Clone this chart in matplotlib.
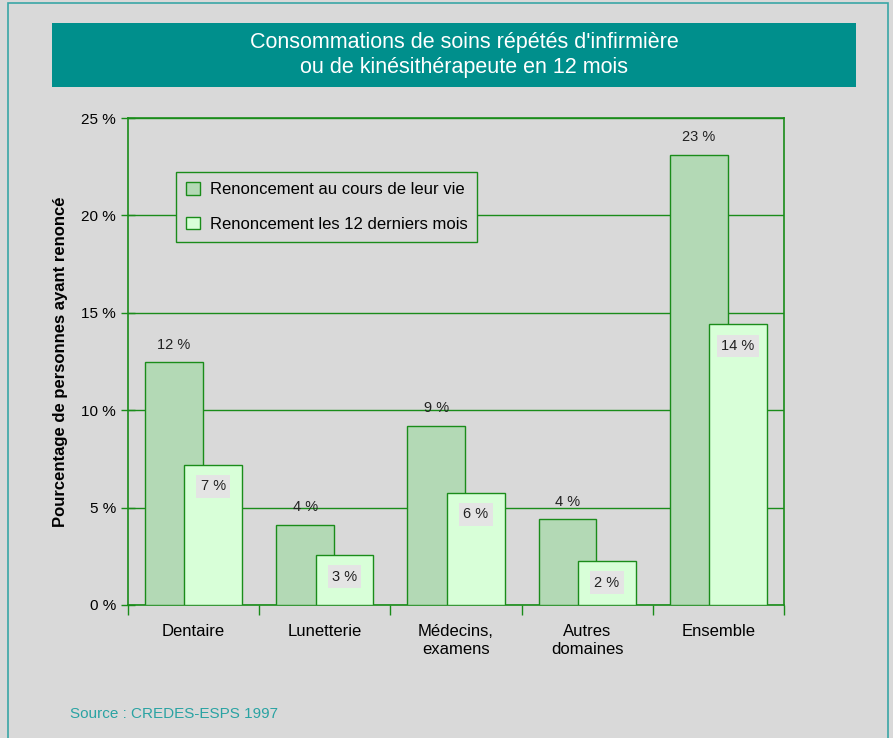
import matplotlib.pyplot as plt
import numpy as np
from matplotlib.patches import Rectangle

# data
categories = ['Dentaire', 'Lunetterie', 'Médecins,\nexamens', 'Autres\ndomaines', 'Ensemble']
vie = [12.45, 4.1, 9.2, 4.4, 23.1]
mois12 = [7.2, 2.55, 5.75, 2.25, 14.4]
vie_labels = ['12 %', '4 %', '9 %', '4 %', '23 %']
mois_labels = ['7 %', '3 %', '6 %', '2 %', '14 %']
yticks = [0, 5, 10, 15, 20, 25]

bg = '#d9d9d9'
green = '#1a8c1a'
teal = '#008f8c'
dark_fill = '#b3d9b5'
light_fill = '#d8ffd8'

plt.rcParams['font.family'] = ['Liberation Sans', 'DejaVu Sans']

fig = plt.figure(figsize=(8.93, 7.38), dpi=100, facecolor=bg)

# outer frame (runs off the bottom edge) and title box
fig.patches.append(Rectangle((8 / 893, -0.02), 880 / 893, 1 - 3 / 738 + 0.02, transform=fig.transFigure,
                             fill=False, edgecolor='#3aa6a6', linewidth=1.2))
fig.patches.append(Rectangle((52 / 893, 1 - 87 / 738), 804 / 893, 64 / 738, transform=fig.transFigure,
                             facecolor=teal, edgecolor='none'))
fig.text(464 / 893, 1 - 55 / 738, "Consommations de soins répétés d'infirmière\nou de kinésithérapeute en 12 mois",
         ha='center', va='center', color='white', fontsize=15.5, linespacing=1.2)

ax = fig.add_axes([128 / 893, 1 - 605 / 738, 656 / 893, 487 / 738])
ax.set_facecolor(bg)

x = np.arange(len(categories))
w = 0.44
off = 0.15
ax.bar(x - off, vie, w, color=dark_fill, edgecolor=green, linewidth=1, zorder=3,
       label='Renoncement au cours de leur vie')
ax.bar(x + off, mois12, w, color=light_fill, edgecolor=green, linewidth=1, zorder=4,
       label='Renoncement les 12 derniers mois')

for i in range(len(categories)):
    ax.text(x[i] - off, vie[i] + 0.55, vie_labels[i], ha='center', va='bottom', fontsize=10.5, color='#222222', zorder=5)
    ax.text(x[i] + off, mois12[i] - 1.1, mois_labels[i], ha='center', va='center', fontsize=10.5, color='#222222',
            zorder=5, bbox=dict(boxstyle='square,pad=0.3', facecolor='#e4e4e4', edgecolor='none'))

ax.set_xlim(-0.5, len(categories) - 0.5)
ax.set_ylim(0, 25)
ax.set_yticks(yticks)
ax.set_yticklabels([f'{t} %' for t in yticks], fontsize=11)
ax.yaxis.grid(True, color=green, linewidth=1, zorder=1)
ax.set_axisbelow(True)

# category ticks between groups, labels centred under groups
ax.set_xticks(np.arange(-0.5, len(categories), 1.0))
ax.set_xticklabels([])
ax.set_xticks(x, minor=True)
ax.set_xticklabels(categories, minor=True, fontsize=12)
ax.tick_params(axis='x', which='minor', length=0, pad=14)
ax.tick_params(axis='x', which='major', direction='out', length=7, color=green, width=1)
ax.tick_params(axis='y', direction='inout', length=10, color=green, width=1)

for s in ax.spines.values():
    s.set_color(green)
    s.set_linewidth(1.2)

ax.set_ylabel('Pourcentage de personnes ayant renoncé', fontsize=12, fontweight='bold', labelpad=10)

leg = ax.legend(loc='upper left', bbox_to_anchor=(40 / 656, 1 - 46 / 487), fontsize=12,
                frameon=True, fancybox=False, handlelength=0.8, handleheight=0.8,
                borderpad=0.6, labelspacing=1.15, handletextpad=0.6)
leg.get_frame().set_facecolor(bg)
leg.get_frame().set_edgecolor(green)
leg.get_frame().set_linewidth(1)
leg.get_frame().set_alpha(1)

fig.text(70 / 893, 1 - 714 / 738, 'Source : CREDES-ESPS 1997', color='#2aa3a3', fontsize=11,
         ha='left', va='center')

fig.savefig('out.png', dpi=100, facecolor=bg)
